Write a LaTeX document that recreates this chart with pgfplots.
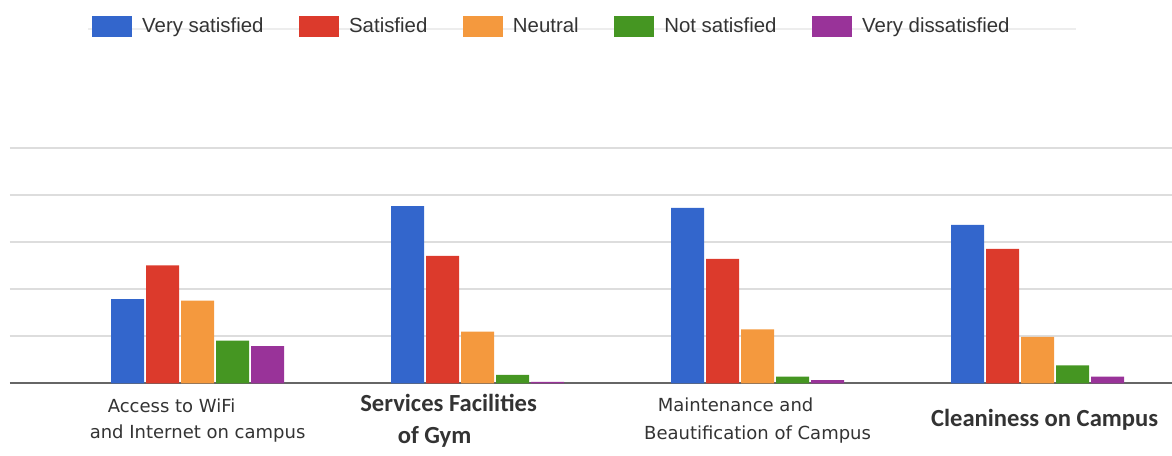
\documentclass[border=0pt]{standalone}
\usepackage{pgfplots}
\pgfplotsset{compat=1.18}
\usepackage{fontspec}
\setmainfont{Liberation Sans}
\newfontfamily\dejavu{DejaVu Sans}
\newfontfamily\carlito{Carlito}

\definecolor{cblue}{HTML}{3366CC}
\definecolor{cred}{HTML}{DC3A2C}
\definecolor{corange}{HTML}{F4993E}
\definecolor{cgreen}{HTML}{459622}
\definecolor{cpurple}{HTML}{993399}
\definecolor{gridgray}{HTML}{DDDDDD}
\definecolor{basegray}{HTML}{666666}
\definecolor{legtext}{HTML}{333333}

\begin{document}
\begin{tikzpicture}
% faint rule behind the legend
\draw[black!7, line width=1pt] (44pt,177.3pt) -- (538pt,177.3pt);
\begin{axis}[
    at={(5pt,0pt)}, anchor=south west,
    scale only axis,
    width=581pt, height=117.5pt,
    ybar=1pt, bar width=16.5pt,
    xmin=-0.670, xmax=3.480,
    ymin=0, ymax=50,
    axis line style={draw=none},
    major tick length=0pt,
    xtick={0,1,2,3},
    xticklabels={
        {{\dejavu\fontsize{9}{11}\selectfont Access to WiFi\hspace*{26pt}}\\[1pt]{\dejavu\fontsize{9}{11}\selectfont and Internet on campus}},
        {{\carlito\bfseries\fontsize{12.3}{14}\selectfont Services Facilities\hspace*{29pt}}\\[4pt]{\carlito\bfseries\fontsize{12.3}{14}\selectfont of Gym\hspace*{43pt}}},
        {{\dejavu\fontsize{9}{11}\selectfont Maintenance and\hspace*{22pt}}\\[2pt]{\dejavu\fontsize{9}{11}\selectfont Beautification of Campus}},
        {{\carlito\bfseries\fontsize{12.3}{14}\selectfont \hspace*{7pt}Cleaniness on Campus}}
    },
    x tick label style={align=center, anchor=center, yshift=-18.5pt, text=legtext},
    ytick={10,20,30,40,50},
    yticklabels={},
    ymajorgrids,
    grid style={gridgray, line width=1pt},
    extra y ticks={0},
    extra y tick labels={},
    extra y tick style={grid=major, grid style={basegray, line width=1pt}},
    legend columns=5,
    legend image code/.code={\fill[#1] (0pt,-5.25pt) rectangle (20pt,5.25pt);},
    legend style={
        at={(0.4655,1.520)}, anchor=center,
        draw=none, fill=none,
        font=\fontsize{10.2}{12}\selectfont, text=legtext,
        nodes={inner sep=0pt},
        /tikz/every odd column/.append style={column sep=5pt},
        /tikz/every even column/.append style={column sep=17.8pt},
    },
]
\addplot[fill=cblue, draw=none] coordinates {(0,17.9) (1,37.7) (2,37.3) (3,33.7)};
\addplot[fill=cred, draw=none] coordinates {(0,25.1) (1,27.1) (2,26.5) (3,28.6)};
\addplot[fill=corange, draw=none] coordinates {(0,17.6) (1,11.0) (2,11.5) (3,9.9)};
\addplot[fill=cgreen, draw=none] coordinates {(0,9.1) (1,1.8) (2,1.4) (3,3.8)};
\addplot[fill=cpurple, draw=none] coordinates {(0,7.9) (1,0.3) (2,0.7) (3,1.4)};
\legend{Very satisfied, Satisfied, Neutral, Not satisfied, Very dissatisfied}
\end{axis}
\pgfresetboundingbox
\path (0pt,-35.85pt) rectangle (586pt,191.65pt);
\end{tikzpicture}
\end{document}
